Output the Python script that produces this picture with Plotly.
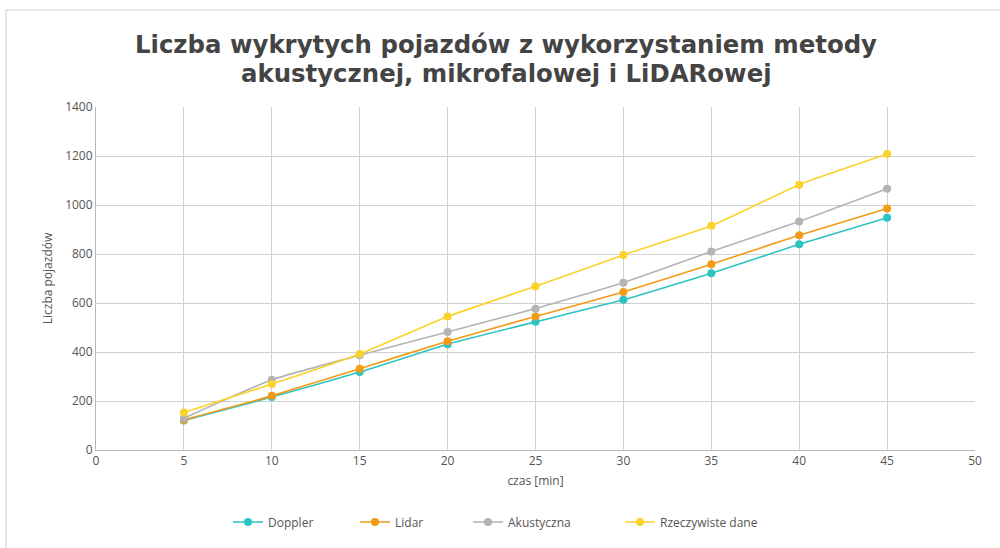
import plotly.graph_objects as go

# Time in minutes
czas = [5, 10, 15, 20, 25, 30, 35, 40, 45]

# Detected vehicle counts per method
doppler = [120, 216, 318, 432, 523, 613, 721, 840, 948]
lidar = [123, 221, 332, 444, 545, 645, 758, 877, 986]
akustyczna = [130, 287, 387, 482, 577, 683, 810, 933, 1066]
rzeczywiste = [153, 269, 392, 545, 668, 796, 915, 1083, 1208]

title_lines = [
    "Liczba wykrytych pojazdów z wykorzystaniem metody",
    "akustycznej, mikrofalowej i LiDARowej",
]

series = [
    ("Doppler", doppler, "#2dc3c3"),
    ("Lidar", lidar, "#f39a17"),
    ("Akustyczna", akustyczna, "#b4b4b4"),
    ("Rzeczywiste dane", rzeczywiste, "#fbd22a"),
]

W, H = 1000, 548
L, R, T, B = 96, 25, 107, 98
pw, ph = W - L - R, H - T - B

def px(x):
    return (x - L) / pw

def py(y):
    return (H - B - y) / ph

# left edge of each legend entry, in pixels
legend_left = [228, 355, 468, 620]
legend_y = 522

fig = go.Figure()
legend_layouts = {}
for i, (name, vals, col) in enumerate(series):
    key = "legend" if i == 0 else f"legend{i + 1}"
    fig.add_trace(go.Scatter(
        x=czas, y=vals, name=name, mode="lines+markers",
        line=dict(color=col, width=1.6, shape="spline", smoothing=0.4),
        marker=dict(color=col, size=8),
        legend=key,
    ))
    legend_layouts[key] = dict(
        x=px(legend_left[i]), xanchor="left",
        y=py(legend_y), yanchor="middle",
        bgcolor="rgba(0,0,0,0)", borderwidth=0,
        font=dict(family="Open Sans", size=12, color="#555555"),
        itemwidth=30,
    )

fig.update_layout(
    width=W, height=H,
    margin=dict(l=L, r=R, t=T, b=B, autoexpand=False),
    paper_bgcolor="white", plot_bgcolor="white",
    font=dict(family="Open Sans", color="#555555", size=12),
    showlegend=True,
    xaxis=dict(
        range=[0, 50], tickmode="linear", tick0=0, dtick=5,
        showgrid=True, gridcolor="#d0d0d0", gridwidth=1,
        showline=True, linecolor="#b8b8b8", linewidth=1,
        zeroline=False, ticks="", ticklen=0,
        title=dict(text="czas [min]", font=dict(size=12, color="#555555"), standoff=8),
        tickfont=dict(size=12, color="#555555"),
    ),
    yaxis=dict(
        range=[0, 1400], tickmode="linear", tick0=0, dtick=200,
        showgrid=True, gridcolor="#d0d0d0", gridwidth=1,
        showline=True, linecolor="#b8b8b8", linewidth=1,
        zeroline=False, ticks="",
        title=dict(text="Liczba pojazdów", font=dict(size=12, color="#555555"), standoff=9),
        tickfont=dict(size=12, color="#555555"),
    ),
    annotations=[
        dict(text=f"<b>{t}</b>", xref="paper", yref="paper",
             x=px(506), y=py(yy), xanchor="center", yanchor="middle",
             showarrow=False,
             font=dict(family="DejaVu Sans", size=24.4, color="#444444"))
        for t, yy in zip(title_lines, [45, 73])
    ],
    shapes=[dict(
        type="rect", xref="paper", yref="paper",
        x0=px(6), x1=px(1010), y0=py(560), y1=py(10),
        line=dict(color="#cfcfcf", width=1), fillcolor="rgba(0,0,0,0)",
        layer="below",
    )],
    **legend_layouts,
)

fig.write_html("out.html")
